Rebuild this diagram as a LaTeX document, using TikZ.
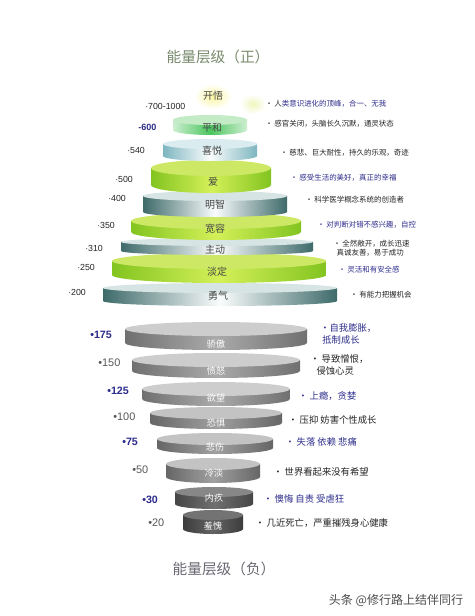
\documentclass[tikz,border=0pt]{standalone}
\usepackage{fontspec}
\newfontfamily\cjk{Noto Sans CJK SC}
\newfontfamily\num{Liberation Sans}
\definecolor{titleg}{RGB}{120,138,108}
\definecolor{titlen}{RGB}{105,105,115}
\definecolor{dblue}{RGB}{45,45,140}
\definecolor{dtext}{RGB}{35,35,35}
\definecolor{labgray}{RGB}{70,70,70}
% positive colours
\definecolor{phTop}{RGB}{195,236,198}
\definecolor{phEdge}{RGB}{205,238,208}
\definecolor{phMid}{RGB}{75,198,95}
\definecolor{xyTop}{RGB}{218,236,240}
\definecolor{xyEdge}{RGB}{125,182,192}
\definecolor{xyMid}{RGB}{250,252,252}
\definecolor{grTop}{RGB}{205,232,100}
\definecolor{grEdge}{RGB}{130,196,32}
\definecolor{grMid}{RGB}{212,240,88}
\definecolor{mtTop}{RGB}{215,228,228}
\definecolor{mtEdge}{RGB}{62,106,106}
\definecolor{mtMid}{RGB}{250,252,252}
% negative colours
\definecolor{n1Top}{RGB}{205,205,205}
\definecolor{n1Edge}{RGB}{112,112,112}
\definecolor{n1Mid}{RGB}{170,170,170}
\definecolor{n2Top}{RGB}{195,195,195}
\definecolor{n2Edge}{RGB}{102,102,102}
\definecolor{n2Mid}{RGB}{160,160,160}
\definecolor{n3Top}{RGB}{135,135,135}
\definecolor{n3Edge}{RGB}{70,70,70}
\definecolor{n3Mid}{RGB}{112,112,112}
\definecolor{n4Top}{RGB}{115,115,115}
\definecolor{n4Edge}{RGB}{60,60,60}
\definecolor{n4Mid}{RGB}{100,100,100}
\newcommand\cyl[8]{%
  \shade[left color=#6,right color=#6,middle color=#7]
    ({#1-#2},{-#3}) -- ({#1-#2},{-#4})
    arc[start angle=180,end angle=360,x radius=#2,y radius=#5]
    -- ({#1+#2},{-#3}) -- cycle;
  \fill[#8] (#1,{-#3}) ellipse[x radius=#2,y radius=#5];}
\begin{document}
\begin{tikzpicture}[x=0.75pt,y=0.75pt,
  lab/.style={font=\cjk\fontsize{7.5}{8}\selectfont,text=labgray,inner sep=0},
  nlab/.style={font=\cjk\fontsize{6.8}{7.5}\selectfont,text=white,inner sep=0},
  desc/.style={font=\cjk\fontsize{5.6}{7}\selectfont,anchor=west,inner sep=0,text=dtext,align=left},
  ndesc/.style={font=\cjk\fontsize{7}{9.5}\selectfont,anchor=west,inner sep=0,text=dtext,align=left},
  pnum/.style={font=\num\fontsize{6.6}{7}\selectfont,anchor=west,inner sep=0,text=dtext},
  pnumb/.style={font=\num\bfseries\fontsize{6.8}{7}\selectfont,anchor=west,inner sep=0,text=dblue},
  nnum/.style={font=\num\fontsize{8.2}{9}\selectfont,anchor=west,inner sep=0,text=black!65},
  nnumb/.style={font=\num\bfseries\fontsize{8}{9}\selectfont,anchor=west,inner sep=0,text=dblue},
  ttl/.style={font=\cjk\fontsize{11}{12}\selectfont,inner sep=0}]
\useasboundingbox (0,0) rectangle (474,-616);
\fill[white] (0,0) rectangle (474,-616);

% titles
\node[ttl,text=titleg] (t1) at (218,-57) {能量层级（正）};
\node[ttl,text=titlen] (t2) at (224,-569) {能量层级（负）};
\node[font=\cjk\fontsize{9}{10}\selectfont,text=black!70,inner sep=0] (wm) at (396,-600) {头条 @修行路上结伴同行};

% glow of the top level
\shade[inner color={rgb,255:red,250;green,246;blue,160},outer color=white] (194,-84) rectangle (232,-109);
\shade[inner color={rgb,255:red,240;green,246;blue,190},outer color=white] (240,-94) rectangle (266,-114);

% positive disks (bottom first)
\cyl{220}{117}{288}{301}{5}{mtEdge}{mtMid}{mtTop}
\cyl{219}{107}{261}{275}{8}{grEdge}{grMid}{grTop}
\cyl{217}{96}{242}{251}{4}{mtEdge}{mtMid}{mtTop}
\cyl{216}{85}{221}{232}{8}{grEdge}{grMid}{grTop}
\cyl{215}{72}{196}{212}{5}{mtEdge}{mtMid}{mtTop}
\cyl{211}{60}{168}{185}{8}{grEdge}{grMid}{grTop}
\cyl{210}{47}{144}{156}{5}{xyEdge}{xyMid}{xyTop}
\cyl{210}{37}{120}{130}{5}{phEdge}{phMid}{phTop}

% positive labels
\node[lab] (l700) at (213,-96) {开悟};
\node[lab] (l600) at (212,-128) {平和};
\node[lab] (l540) at (212,-151) {喜悦};
\node[lab] (l500) at (213,-182) {爱};
\node[lab] (l400) at (215,-205) {明智};
\node[lab] (l350) at (215,-229) {宽容};
\node[lab] (l310) at (215,-250) {主动};
\node[lab] (l250) at (217,-272) {淡定};
\node[lab] (l200) at (218,-296) {勇气};

% positive numbers
\node[pnum] (v700) at (145,-106) {·700-1000};
\node[pnumb] (v600) at (138,-127) {-600};
\node[pnum] (v540) at (127,-150) {·540};
\node[pnum] (v500) at (115,-179) {·500};
\node[pnum] (v400) at (108,-198) {·400};
\node[pnum] (v350) at (97,-225) {·350};
\node[pnum] (v310) at (85,-248) {·310};
\node[pnum] (v250) at (77,-267) {·250};
\node[pnum] (v200) at (68,-292) {·200};

% positive descriptions
\node[desc] (d700) at (265,-104) {·\ 人\textcolor{dblue}{类意识进化的顶峰，合一、无我}};
\node[desc] (d600) at (265,-124) {·\ 感官关闭，头脑长久沉默，通灵状态};
\node[desc] (d540) at (280,-153) {·\ 慈悲、巨大耐性，持久的乐观，奇迹};
\node[desc,text=dblue] (d500) at (290,-178) {·\ 感受生活的美好，真正的幸福};
\node[desc] (d400) at (305,-200) {·\ 科学医学概念系统的创造者};
\node[desc,text=dblue] (d350) at (317,-225) {·\ 对判断对错不感兴趣，自控};
\node[desc] (d310) at (333,-248) {·\ 全然敞开，成长迅速\\\ \ 真诚友善，易于成功};
\node[desc,text=dblue] (d250) at (338,-270) {·\ 灵活和有安全感};
\node[desc] (d200) at (350,-295) {·\ 有能力把握机会};

% negative disks
\cyl{216}{91}{329}{343}{7}{n1Edge}{n1Mid}{n1Top}
\cyl{216}{84}{360}{371}{7}{n1Edge}{n1Mid}{n1Top}
\cyl{216}{74}{389}{399}{7}{n1Edge}{n1Mid}{n1Top}
\cyl{216}{66}{413}{423}{6}{n2Edge}{n2Mid}{n2Top}
\cyl{215}{58}{439}{448}{6}{n2Edge}{n2Mid}{n2Top}
\cyl{213}{47}{464}{477}{6}{n2Edge}{n2Mid}{n2Top}
\cyl{214}{39}{492}{504}{5}{n3Edge}{n3Mid}{n3Top}
\cyl{213}{30}{515}{529}{5}{n4Edge}{n4Mid}{n4Top}

% negative labels
\node[nlab] (l175) at (216,-344) {骄傲};
\node[nlab] (l150) at (216,-371) {愤怒};
\node[nlab] (l125) at (216,-398) {欲望};
\node[nlab] (l100) at (216,-423) {恐惧};
\node[nlab] (l75) at (215,-447) {悲伤};
\node[nlab] (l50) at (214,-473) {冷淡};
\node[nlab] (l30) at (214,-498) {内疚};
\node[nlab] (l20) at (213,-526) {羞愧};

% negative numbers
\node[nnumb] (v175) at (90,-335) {•175};
\node[nnum] (v150) at (98,-363) {•150};
\node[nnumb] (v125) at (107,-391) {•125};
\node[nnum] (v100) at (113,-417) {•100};
\node[nnumb] (v75) at (122,-442) {•75};
\node[nnum] (v50) at (132,-470) {•50};
\node[nnumb] (v30) at (142,-500) {•30};
\node[nnum] (v20) at (148,-523) {•20};

% negative descriptions
\node[ndesc,text=dblue] (d175) at (320,-334) {·自我膨胀，\\\ 抵制成长};
\node[ndesc] (d150) at (310,-365) {·\ 导致憎恨，\\\ \ \ 侵蚀心灵};
\node[ndesc,text=dblue] (d125) at (298,-396) {·\ 上瘾，贪婪};
\node[ndesc] (d100) at (288,-420) {·\ 压抑 妨害个性成长};
\node[ndesc,text=dblue] (d75) at (285,-442) {·\ 失落 依赖 悲痛};
\node[ndesc] (d50) at (273,-472) {·\ 世界看起来没有希望};
\node[ndesc,text=dblue] (d30) at (263,-499) {·\ 懊悔 自责 受虐狂};
\node[ndesc] (d20) at (255,-523) {·\ 几近死亡，严重摧残身心健康};
\end{tikzpicture}
\end{document}
